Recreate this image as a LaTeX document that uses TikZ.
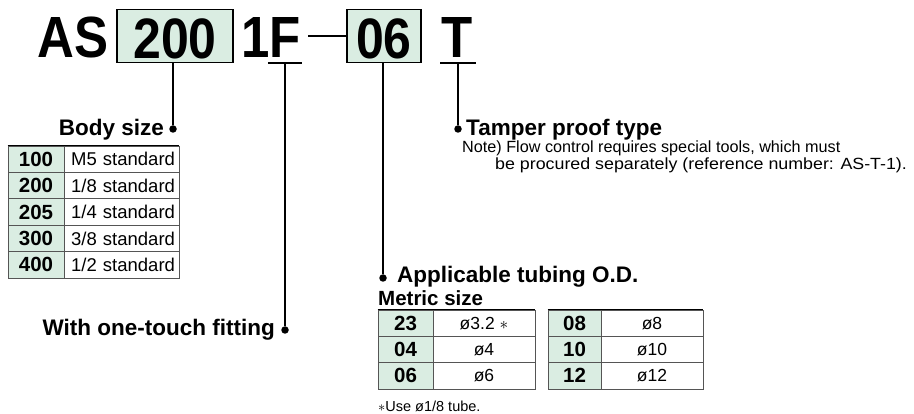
\documentclass[tikz,border=0pt]{standalone}
\usepackage{graphicx}
\usepackage{fontspec}
\setmainfont{Liberation Sans}

\definecolor{mint}{RGB}{218,237,226}
\definecolor{rulegray}{RGB}{85,85,85}
\newcommand{\fsz}[1]{\fontsize{#1}{#1}\selectfont}
\newcommand{\tall}[1]{\scalebox{1}[1.14]{#1}}

\tikzset{
  codebox/.style={draw, line width=1.6pt, fill=mint, inner sep=0pt,
    minimum width=#1, minimum height=53pt, text height=45pt,
    font=\fsz{50}\bfseries},
  codetext/.style={inner sep=0pt, anchor=base west, font=\fsz{51}\bfseries},
  lead/.style={line width=1.3pt},
  knob/.style={circle, fill, inner sep=0pt, minimum size=7.5pt},
  heading/.style={inner sep=0pt, font=\fsz{22.5}\bfseries},
  numcell/.style={draw=rulegray, fill=mint, line width=0.6pt, inner sep=0pt,
    minimum width=#1, minimum height=26.4pt, font=\fsz{20.5}\bfseries},
  valcell/.style={draw=rulegray, line width=0.6pt, inner sep=0pt,
    minimum width=#1, minimum height=26.4pt, font=\fsz{17.5}},
}

\begin{document}
\begin{tikzpicture}[x=1pt, y=-1pt]
  \useasboundingbox (0,0) rectangle (914,414);

  % part number
  \node[codetext] (as) at (37,58) {\tall{AS}};
  \node[codebox=116pt] (box200) at (175,36) {\tall{200}};
  \node[codetext] (onef) at (241,58) {\tall{1F}};
  \node[codebox=74pt] (box06) at (384,36) {\tall{06}};
  \node[codetext] (tee) at (441,58) {\tall{T}};
  \coordinate (dashL) at (308,36);
  \draw[line width=1.8pt] (dashL) -- (box06.west);

  % underlines
  \node[inner sep=0pt, minimum width=34pt, minimum height=0pt] (barF) at (285,63) {};
  \node[inner sep=0pt, minimum width=35pt, minimum height=0pt] (barT) at (458,63) {};
  \draw[lead] (barF.west) -- (barF.east);
  \draw[lead] (barT.west) -- (barT.east);

  % leader dots
  \node[knob] (dotBody) at (173,129) {};
  \node[knob] (dotFit) at (285,330) {};
  \node[knob] (dotTube) at (383,278) {};
  \node[knob] (dotTamper) at (458,129) {};

  \draw[lead] (dotBody |- box200.south) -- (dotBody);
  \draw[lead] (barF) -- (dotFit);
  \draw[lead] (dotTube |- box06.south) -- (dotTube);
  \draw[lead] (barT) -- (dotTamper);

  % labels
  \node[heading, anchor=base east] (body) at (164,136) {Body size};
  \node[heading, anchor=base east] (fit) at (275,336) {With one-touch fitting};
  \node[heading, anchor=base west] (tamper) at (466,136) {Tamper proof type};
  \node[heading, anchor=base west] (tube) at (397,283) {Applicable tubing O.D.};
  \node[inner sep=0pt, anchor=base west, font=\fsz{20.5}\bfseries] (metric) at (378,306) {Metric size};

  \node[inner sep=0pt, anchor=base west, font=\fsz{16.2}] (note1) at (462,153)
    {Note) Flow control requires special tools, which must};
  \node[inner sep=0pt, anchor=base west, font=\fsz{16.2}] (note2) at (495,170)
    {\scalebox{1.1}[1]{be procured separately (reference number: AS-T-1).}};

  % body size table
  \foreach \num/\txt [count=\i] in {100/M5 standard, 200/{1/8 standard},
      205/{1/4 standard}, 300/{3/8 standard}, 400/{1/2 standard}}
  {
    \node[numcell=56pt] (bn\i) at (36,{146+26.4*\i-13.2}) {\num};
    \node[valcell=115pt, text width=107pt, align=right, inner xsep=4pt, font=\fsz{18.5}]
      (bd\i) at (121.5,{146+26.4*\i-13.2}) {\txt};
  }
  \draw[line width=1.6pt] (bn1.north west) -- (bd1.north east);

  % metric size tables
  \foreach \num/\txt [count=\i] in {23/{\o3.2 $\ast$}, 04/\o4, 06/\o6}
  {
    \node[numcell=55pt, minimum height=26.3pt] (mn\i) at (405.5,{310+26.3*\i-13.15}) {\num};
    \node[valcell=102pt, minimum height=26.3pt] (mv\i) at (484,{310+26.3*\i-13.15}) {\txt};
  }
  \foreach \num/\txt [count=\i] in {08/\o8, 10/\o10, 12/\o12}
  {
    \node[numcell=53pt, minimum height=26.3pt] (rn\i) at (574.5,{310+26.3*\i-13.15}) {\num};
    \node[valcell=102pt, minimum height=26.3pt] (rv\i) at (652,{310+26.3*\i-13.15}) {\txt};
  }
  \draw[line width=1.6pt] (mn1.north west) -- (mv1.north east);
  \draw[line width=1.6pt] (rn1.north west) -- (rv1.north east);

  \node[inner sep=0pt, anchor=base west, font=\fsz{14.5}] (foot) at (378,411)
    {$\ast$Use \o1/8 tube.};
\end{tikzpicture}
\end{document}
